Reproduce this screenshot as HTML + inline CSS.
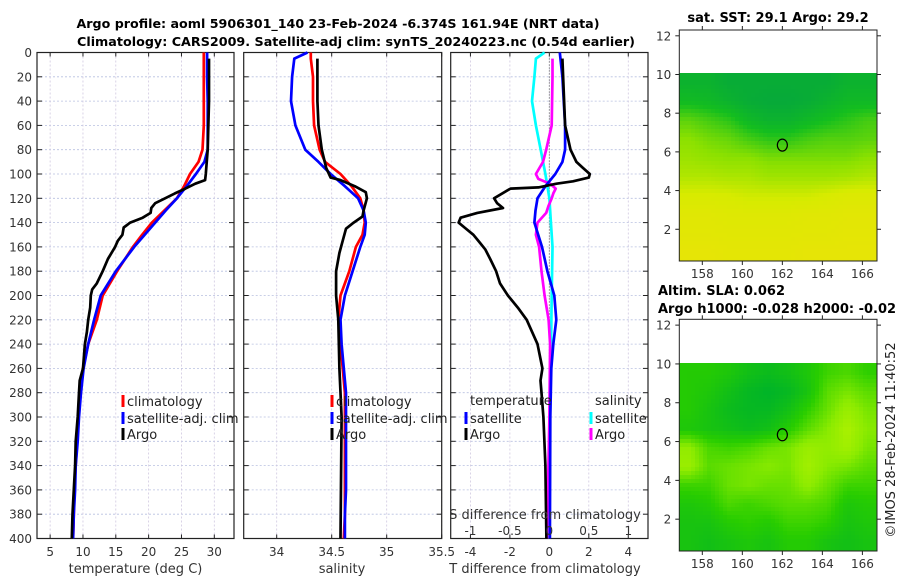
<!DOCTYPE html>
<html><head><meta charset="utf-8">
<style>
body{margin:0;background:#fff;}
#wrap{position:relative;width:900px;height:580px;overflow:hidden;background:#fff;font-family:"Liberation Sans","DejaVu Sans",sans-serif;}
svg text{font-family:"DejaVu Sans","Liberation Sans",sans-serif;}
canvas{position:absolute;image-rendering:pixelated;}
</style></head>
<body>
<div id="wrap">
<canvas id="map1" width="198" height="188" style="left:679px;top:73px;width:198px;height:188px"></canvas>
<canvas id="map2" width="198" height="188" style="left:679px;top:363px;width:198px;height:188px"></canvas>
<svg id="fig" width="900" height="580" style="position:absolute;left:0;top:0"></svg>
</div>
<script>
// ---------- data ----------
const depths = [0,5,20,40,60,80,90,100,110,120,130,140,150,160,180,200,220,240,260,280,300,320,340,360,380,400];
const tClim = [28.4,28.4,28.4,28.4,28.4,28.2,27.6,26.3,25.4,24.3,22.4,20.5,19.0,17.6,15.2,13.0,12.1,10.8,10.0,9.5,9.3,9.1,8.9,8.7,8.6,8.5];
const tSat  = [28.9,28.9,28.9,29.0,29.0,29.0,28.5,27.2,25.8,24.3,22.6,21.0,19.4,17.8,15.0,12.7,11.7,10.8,10.1,9.7,9.4,9.2,8.9,8.8,8.6,8.5];
const argoDepths = [5,40,80,100,105,108,112,116,120,124,128,132,136,140,144,150,155,160,170,180,190,195,200,210,220,230,240,260,270,280,300,320,340,360,380,400];
const tArgo = [29.2,29.2,29.0,28.7,28.6,27.1,25.6,24.0,22.5,21.0,20.4,20.3,19.1,17.2,16.2,16.0,15.3,14.9,13.8,13.0,12.1,11.4,11.2,11.1,10.8,10.6,10.3,10.0,9.5,9.4,9.2,8.9,8.8,8.6,8.4,8.3];
const sClim = [34.31,34.31,34.33,34.33,34.34,34.39,34.44,34.58,34.68,34.76,34.79,34.80,34.78,34.72,34.66,34.58,34.56,34.58,34.60,34.62,34.62,34.62,34.62,34.62,34.62,34.61];
const sSat  = [34.28,34.16,34.14,34.13,34.17,34.26,34.38,34.49,34.62,34.74,34.79,34.81,34.80,34.76,34.69,34.62,34.58,34.59,34.61,34.63,34.63,34.63,34.63,34.63,34.62,34.62];
const sArgoDepths = [5,40,60,80,95,103,105,110,115,120,130,135,140,145,155,165,180,200,210,220,260,300,400];
const sArgo = [34.37,34.37,34.38,34.41,34.45,34.49,34.58,34.71,34.81,34.82,34.79,34.78,34.70,34.63,34.60,34.57,34.54,34.54,34.55,34.56,34.57,34.59,34.58];
const dTDepths = [0,20,60,80,90,100,110,120,130,140,160,180,200,220,240,260,300,400];
const dTSat = [0.53,0.66,0.8,0.8,0.66,0.3,-0.2,-0.6,-0.7,-0.76,-0.37,-0.1,0.25,0.35,0.2,0.1,0.05,0.03];
const dTArgoDepths = [5,60,80,90,95,100,103,106,108,111,112,120,124,128,132,136,140,144,150,156,162,170,180,190,200,210,220,240,260,270,280,300,340,400];
const dTArgo = [0.66,0.8,1.07,1.37,1.7,2.05,2.0,1.2,0.36,-0.55,-1.97,-2.8,-2.65,-2.35,-3.65,-4.5,-4.6,-4.3,-3.85,-3.55,-3.25,-3.0,-2.7,-2.5,-2.1,-1.6,-1.15,-0.6,-0.35,-0.45,-0.4,-0.3,-0.2,-0.15];
const dSDepths = [0,5,20,40,60,80,100,120,140,160,200,300,400];
const dSSat = [-0.06,-0.17,-0.19,-0.22,-0.17,-0.11,-0.05,0,0.02,0.04,0.03,0.01,0.0];
const dSArgoDepths = [5,20,60,80,90,100,104,108,112,116,120,126,132,140,150,160,180,200,220,240,300,400];
const dSArgo = [0.04,0.04,0.03,-0.04,-0.08,-0.17,-0.14,0.01,0.08,0.05,0.03,-0.01,-0.04,-0.15,-0.17,-0.13,-0.1,-0.06,-0.01,0.01,0.0,-0.03];
const depthTicks = [0,20,40,60,80,100,120,140,160,180,200,220,240,260,280,300,320,340,360,380,400];
const tTicks = [5,10,15,20,25,30];
const sTicks = [34,34.5,35,35.5];
const sTickLabels = ["34","34.5","35","35.5"];
const dTTicks = [-4,-2,0,2,4];
const dSTicks = [-1,-0.5,0,0.5,1];
const dSTickLabels = ["-1","-0.5","0","0.5","1"];
const latTicks = [2,4,6,8,10,12];
const lonTicks = [158,160,162,164,166];
const sstGrid = [
[0.15,0.15,0.10,0.10,0.10,0.10,0.10,0.10,0.15,0.15],
[0.22,0.20,0.15,0.10,0.08,0.08,0.10,0.15,0.20,0.20],
[0.40,0.35,0.30,0.20,0.15,0.15,0.20,0.25,0.30,0.35],
[0.50,0.45,0.42,0.35,0.30,0.30,0.35,0.38,0.38,0.40],
[0.55,0.52,0.50,0.50,0.46,0.46,0.46,0.46,0.46,0.50],
[0.62,0.62,0.60,0.60,0.56,0.56,0.56,0.56,0.58,0.62],
[0.76,0.76,0.75,0.72,0.72,0.72,0.72,0.76,0.80,0.80],
[0.84,0.84,0.82,0.82,0.82,0.82,0.84,0.84,0.86,0.86],
[0.86,0.86,0.85,0.85,0.85,0.85,0.86,0.86,0.88,0.88],
[0.90,0.90,0.88,0.88,0.88,0.88,0.90,0.90,0.90,0.90]];
const slaGrid = [
[0.30,0.30,0.25,0.15,0.10,0.15,0.25,0.40,0.45,0.35],
[0.30,0.25,0.15,0.05,0.00,0.05,0.20,0.50,0.60,0.50],
[0.30,0.20,0.10,0.05,0.05,0.15,0.35,0.55,0.75,0.60],
[0.25,0.20,0.15,0.10,0.15,0.30,0.50,0.65,0.85,0.65],
[0.70,0.45,0.40,0.45,0.55,0.60,0.75,0.70,0.80,0.60],
[0.75,0.50,0.55,0.60,0.65,0.60,0.80,0.65,0.60,0.50],
[0.40,0.40,0.55,0.60,0.55,0.55,0.70,0.55,0.40,0.40],
[0.25,0.30,0.45,0.40,0.45,0.50,0.50,0.45,0.25,0.30],
[0.20,0.20,0.30,0.35,0.30,0.40,0.40,0.35,0.20,0.25],
[0.20,0.15,0.20,0.25,0.20,0.30,0.30,0.20,0.15,0.20]];
const argoLon = 162.0, argoLat = 6.35;

// ---------- helpers ----------
const NS="http://www.w3.org/2000/svg";
const svg=document.getElementById('fig');
function mk(tag,attrs,parent){const e=document.createElementNS(NS,tag);for(const k in attrs)e.setAttribute(k,attrs[k]);(parent||svg).appendChild(e);return e;}
const yTop=52.5, yBot=538.5;
function yD(d){return yTop+(d/400)*(yBot-yTop);}
function lin(d0,d1,p0,p1){return v=>p0+(v-d0)/(d1-d0)*(p1-p0);}
const panels=[
 {name:'temperature-panel',x0:37,x1:234,sc:lin(3,33,37,234)},
 {name:'salinity-panel',x0:243.7,x1:441.7,sc:lin(33.7,35.5,243.7,441.7)},
 {name:'difference-panel',x0:450.7,x1:648,sc:lin(-5,5,450.7,648)}];
const dSx=lin(-1.25,1.25,450.7,648);

function frame(p,xt,xl){
 const g=mk('g',{});
 
 
 depthTicks.forEach(d=>{const y=yD(d);
  if(d>0&&d<400){const l=mk('line',{x1:p.x0,x2:p.x1,y1:y,y2:y,stroke:'#b8c0e0','stroke-width':0.8,'stroke-dasharray':'2,2'},g);}
  mk('line',{x1:p.x0,x2:p.x0+5,y1:y,y2:y,stroke:'#222','stroke-width':1},g);
  mk('line',{x1:p.x1,x2:p.x1-5,y1:y,y2:y,stroke:'#222','stroke-width':1},g);
 });
 xt.forEach(v=>{const x=p.sc(v);
  const l=mk('line',{x1:x,x2:x,y1:yTop,y2:yBot,stroke:'#d0c8e0','stroke-width':0.8,'stroke-dasharray':'2,2'},g);
  
  mk('line',{x1:x,x2:x,y1:yTop,y2:yTop+4,stroke:'#222'},g);
  mk('line',{x1:x,x2:x,y1:yBot,y2:yBot-4,stroke:'#222'},g);
 });
 const b=mk('rect',{x:p.x0,y:yTop,width:p.x1-p.x0,height:yBot-yTop,fill:'none',stroke:'#222','stroke-width':1.2},g);
 
 xt.forEach((v,i)=>{const t=mk('text',{x:p.sc(v),y:556,'font-size':12,fill:'#333','text-anchor':'middle'},g);t.textContent=xl?xl[i]:String(v);});
 return g;
}
function path(xs,ds,sc,color,name,w){
 let d='';xs.forEach((v,i)=>{d+=(i?'L':'M')+sc(v).toFixed(1)+','+yD(ds[i]).toFixed(1);});
 const p=mk('path',{d:d,fill:'none',stroke:color,'stroke-width':w||2.7,'stroke-linejoin':'round'});
 return p;
}
function txt(x,y,s,size,attrs,name){const t=mk('text',Object.assign({x:x,y:y,'font-size':size,fill:'#222'},attrs||{}));t.textContent=s;return t;}
function legend(x,y,color,label,name){
 const r=mk('rect',{x:x-1.5,y:y-6,width:3,height:12,fill:color});
 txt(x+4,y+5,label,13,{fill:'#222'},name);
}

// ---------- titles ----------
txt(338,28,'Argo profile: aoml 5906301_140 23-Feb-2024 -6.374S 161.94E (NRT data)',12.5,{'font-weight':'bold','text-anchor':'middle',fill:'#000',textLength:523,lengthAdjust:'spacingAndGlyphs'},'title-line-1');
txt(356,46,'Climatology: CARS2009. Satellite-adj clim: synTS_20240223.nc (0.54d earlier)',12.5,{'font-weight':'bold','text-anchor':'middle',fill:'#000',textLength:558,lengthAdjust:'spacingAndGlyphs'},'title-line-2');

// ---------- panel 1 ----------
frame(panels[0],tTicks);
depthTicks.forEach(d=>txt(32,yD(d)+4.5,String(d),12,{'text-anchor':'end',fill:'#333'},'y-tick-label'));
path(tClim,depths,panels[0].sc,'#f00','temp-climatology-line');
path(tSat,depths,panels[0].sc,'#00f','temp-satellite-line');
path(tArgo,argoDepths,panels[0].sc,'#000','temp-argo-line');
txt(135.5,573,'temperature (deg C)',13,{'text-anchor':'middle',fill:'#333'},'x-axis-title-temperature');
legend(123,401,'#f00','climatology','legend-climatology');
legend(123,418,'#00f','satellite-adj. clim','legend-satellite');
legend(123,434,'#000','Argo','legend-argo');

// ---------- panel 2 ----------
frame(panels[1],sTicks,sTickLabels);
path(sClim,depths,panels[1].sc,'#f00','sal-climatology-line');
path(sSat,depths,panels[1].sc,'#00f','sal-satellite-line');
path(sArgo,sArgoDepths,panels[1].sc,'#000','sal-argo-line');
txt(342,573,'salinity',13,{'text-anchor':'middle',fill:'#333'},'x-axis-title-salinity');
legend(332,401,'#f00','climatology','legend-sal-climatology');
legend(332,418,'#00f','satellite-adj. clim','legend-sal-satellite');
legend(332,434,'#000','Argo','legend-sal-argo');

// ---------- panel 3 ----------
frame(panels[2],dTTicks);
mk('line',{x1:panels[2].sc(0),x2:panels[2].sc(0),y1:yTop,y2:yBot,stroke:'#555','stroke-width':1,'stroke-dasharray':'1,2'});
path(dSSat,dSDepths,dSx,'#0ff','sdiff-satellite-line');
path(dSArgo,dSArgoDepths,dSx,'#f0f','sdiff-argo-line');
path(dTSat,dTDepths,panels[2].sc,'#00f','tdiff-satellite-line');
path(dTArgo,dTArgoDepths,panels[2].sc,'#000','tdiff-argo-line');
txt(545,573,'T difference from climatology',13,{'text-anchor':'middle',fill:'#333'},'x-axis-title-tdiff');
txt(545,519,'S difference from climatology',13,{'text-anchor':'middle',fill:'#333'},'s-axis-title');
dSTicks.forEach((v,i)=>txt(dSx(v),535,dSTickLabels[i],12,{'text-anchor':'middle',fill:'#333'},'s-tick-label'));
txt(470,405,'temperature',13,{fill:'#222'},'legend-temperature-heading');
txt(595,405,'salinity',13,{fill:'#222'},'legend-salinity-heading');
legend(466,418,'#00f','satellite','legend-tdiff-satellite');
legend(466,434,'#000','Argo','legend-tdiff-argo');
legend(591,418,'#0ff','satellite','legend-sdiff-satellite');
legend(591,434,'#f0f','Argo','legend-sdiff-argo');

// ---------- maps ----------
function mapAxes(top,bottom,name){
 const x0=679.3,x1=877,ymin=0.36,ymax=12.3;
 const ly=lin(ymin,ymax,bottom,top), lx=lin(156.85,166.73,x0,x1);
 const g=mk('g',{});
 mk('rect',{x:x0,y:top,width:x1-x0,height:bottom-top,fill:'none',stroke:'#222','stroke-width':1},g);
 latTicks.forEach(v=>{const y=ly(v);mk('line',{x1:x0,x2:x0-4,y1:y,y2:y,stroke:'#222'},g);mk('line',{x1:x1,x2:x1+4,y1:y,y2:y,stroke:'#222'},g);
  txt(x0-8,y+4.5,String(v),12,{'text-anchor':'end',fill:'#333'},'map-lat-label');});
 lonTicks.forEach(v=>{const x=lx(v);mk('line',{x1:x,x2:x,y1:bottom,y2:bottom+4,stroke:'#222'},g);mk('line',{x1:x,x2:x,y1:top,y2:top-4,stroke:'#222'},g);
  txt(x,bottom+17,String(v),12,{'text-anchor':'middle',fill:'#333'},'map-lon-label');});
 const c=mk('ellipse',{cx:lx(argoLon),cy:ly(argoLat),rx:5,ry:6,fill:'none',stroke:'#000','stroke-width':1.2},g);
 
 return {lx,ly};
}
txt(778,22,'sat. SST: 29.1 Argo: 29.2',13,{'font-weight':'bold','text-anchor':'middle',fill:'#000'},'sst-map-title');
mapAxes(30,261,'sst-map-axes');
txt(658,295,'Altim. SLA: 0.062',13,{'font-weight':'bold',fill:'#000'},'sla-map-title');
txt(658,313,'Argo h1000: -0.028 h2000: -0.02',13,{'font-weight':'bold',fill:'#000'},'sla-map-subtitle');
mapAxes(319.3,551,'sla-map-axes');
txt(0,0,'©IMOS 28-Feb-2024 11:40:52',13,{'text-anchor':'middle',fill:'#222',transform:'translate(895,440) rotate(-90)'},'copyright-label');

function drawMap(id,grid,stops){
 const cv=document.getElementById(id),ctx=cv.getContext('2d');
 const W=cv.width,H=cv.height,cell=4;
 const R=grid.length,C=grid[0].length;
 function col(v){v=Math.max(0,Math.min(1,v));const n=stops.length-1;const f=v*n;const i=Math.min(n-1,Math.floor(f));const t=f-i;
  const a=stops[i],b=stops[i+1];return 'rgb('+[0,1,2].map(k=>Math.round(a[k]+(b[k]-a[k])*t)).join(',')+')';}
 for(let y=0;y<H;y+=cell){for(let x=0;x<W;x+=cell){
  const gy=Math.min(R-1.001,Math.max(0,(y+cell/2)/H*R-0.5)), gx=Math.min(C-1.001,Math.max(0,(x+cell/2)/W*C-0.5));
  const i=Math.floor(gy),j=Math.floor(gx),ty=gy-i,tx=gx-j;
  const v=grid[i][j]*(1-tx)*(1-ty)+grid[i][j+1]*tx*(1-ty)+grid[i+1][j]*(1-tx)*ty+grid[i+1][j+1]*tx*ty;
  ctx.fillStyle=col(v);ctx.fillRect(x,y,cell,cell);}}
}
drawMap('map1',sstGrid,[[0,160,70],[20,190,30],[140,225,0],[215,235,0],[240,225,10]]);
drawMap('map2',slaGrid,[[0,180,40],[40,205,0],[140,235,0],[195,245,0]]);
</script>
</body></html>
